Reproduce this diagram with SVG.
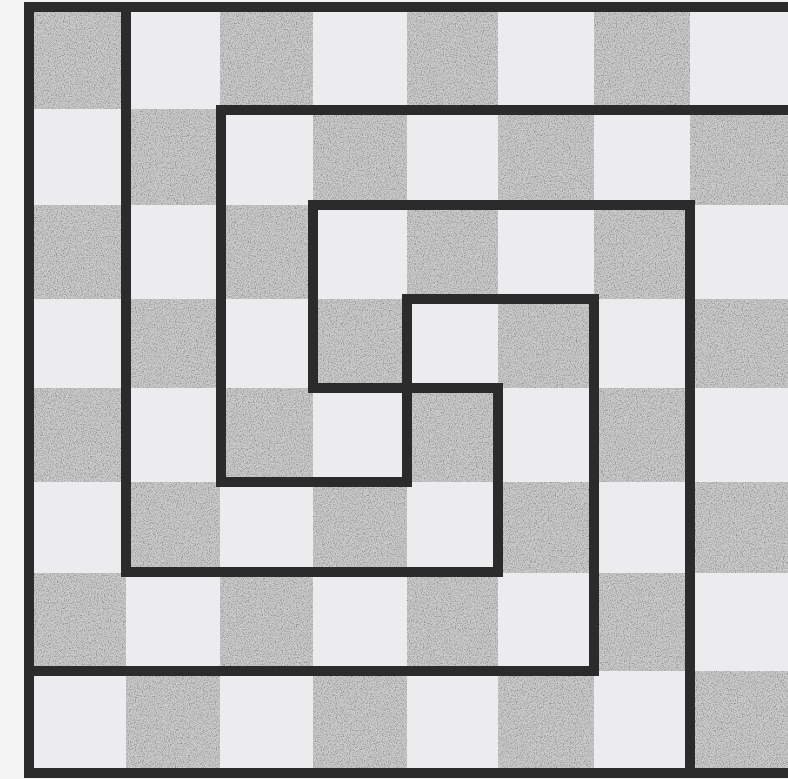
<svg xmlns="http://www.w3.org/2000/svg" width="788" height="779" viewBox="0 0 788 779">
<defs>
<style>
.lt{fill:#ececee}
.dk{fill:#cacaca}
.ln{fill:none;stroke:#2b2b2b;stroke-width:10;stroke-linejoin:miter;stroke-linecap:square}
</style>
<filter id="grain" x="0" y="0" width="1" height="1" color-interpolation-filters="sRGB">
<feTurbulence type="fractalNoise" baseFrequency="0.85" numOctaves="2" seed="5" result="t"/>
<feColorMatrix in="t" type="matrix" values="0.4 0.4 0.4 0 0.35 0.4 0.4 0.4 0 0.35 0.4 0.4 0.4 0 0.35 0 0 0 0 1" result="g"/>
<feBlend in="SourceGraphic" in2="g" mode="multiply" result="b"/>
<feComposite in="b" in2="SourceAlpha" operator="in"/>
</filter>
</defs>
<rect x="0" y="0" width="788" height="779" fill="#f3f3f3"/>
<g id="board">
<rect class="lt" x="29" y="6" width="759" height="766"/>
<g id="dark-squares" class="dk" filter="url(#grain)">
<rect x="29" y="6" width="97" height="103"/>
<rect x="220" y="6" width="93" height="103"/>
<rect x="407" y="6" width="91" height="103"/>
<rect x="594" y="6" width="96" height="103"/>
<rect x="126" y="109" width="94" height="96"/>
<rect x="313" y="109" width="94" height="96"/>
<rect x="498" y="109" width="96" height="96"/>
<rect x="690" y="109" width="98" height="96"/>
<rect x="29" y="205" width="97" height="94"/>
<rect x="220" y="205" width="93" height="94"/>
<rect x="407" y="205" width="91" height="94"/>
<rect x="594" y="205" width="96" height="94"/>
<rect x="126" y="299" width="94" height="89"/>
<rect x="313" y="299" width="94" height="89"/>
<rect x="498" y="299" width="96" height="89"/>
<rect x="690" y="299" width="98" height="89"/>
<rect x="29" y="388" width="97" height="94"/>
<rect x="220" y="388" width="93" height="94"/>
<rect x="407" y="388" width="91" height="94"/>
<rect x="594" y="388" width="96" height="94"/>
<rect x="126" y="482" width="94" height="91"/>
<rect x="313" y="482" width="94" height="91"/>
<rect x="498" y="482" width="96" height="91"/>
<rect x="690" y="482" width="98" height="91"/>
<rect x="29" y="573" width="97" height="98"/>
<rect x="220" y="573" width="93" height="98"/>
<rect x="407" y="573" width="91" height="98"/>
<rect x="594" y="573" width="96" height="98"/>
<rect x="126" y="671" width="94" height="101"/>
<rect x="313" y="671" width="94" height="101"/>
<rect x="498" y="671" width="96" height="101"/>
<rect x="690" y="671" width="98" height="101"/>
</g>
</g>
<g id="lines">
<path id="frame" class="ln" d="M793,7 H29 V773 H793"/>
<path id="spiral-a" class="ln" d="M126,7 V572 H498 V388 H313 V205 H690 V773"/>
<path id="spiral-b" class="ln" d="M793,110 H221 V482 H407 V299 H594 V671 H29"/>
</g>
</svg>
